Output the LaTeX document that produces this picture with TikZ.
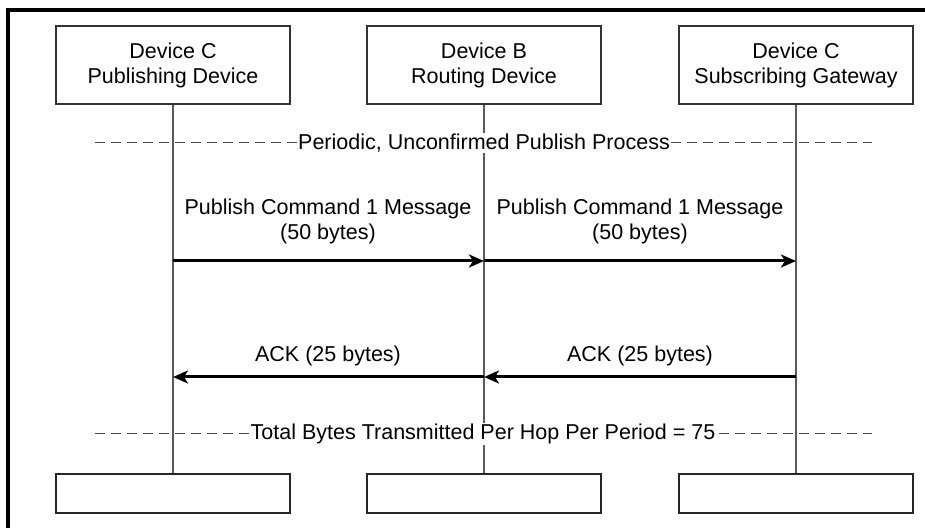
\documentclass[tikz,border=0pt]{standalone}
\usepackage{fontspec}
\setmainfont{Liberation Sans}
\usetikzlibrary{arrows.meta}
\begin{document}
\begin{tikzpicture}[x=0.5pt,y=-0.5pt,
  txt/.style={font=\fontsize{10.75}{12.5}\selectfont, align=center},
  devbox/.style={txt, draw=black!80, line width=0.7pt, fill=white,
    minimum width=117pt, minimum height=39pt, inner sep=0pt},
  endbox/.style={draw=black!85, line width=0.7pt, fill=white,
    minimum width=117pt, minimum height=19.5pt, inner sep=0pt},
  lifeline/.style={draw=black!65, line width=0.75pt},
  phase/.style={draw=black!70, line width=0.5pt, dash pattern=on 5pt off 3pt},
  phasetext/.style={txt, fill=white, inner sep=0.6pt},
  msg/.style={draw=black, line width=1.5pt, -{Stealth[length=7.5pt,width=6.5pt,inset=2pt]}},
  lbl/.style={txt, inner sep=0pt}
]
\useasboundingbox (0,0) rectangle (925,528);
\fill[white] (0,0) rectangle (925,528);

% outer frame
\draw[line width=1.8pt] (8,540) -- (8,10) -- (935,10);

% participants
\node[devbox] (pubTop) at (173,65) {Device C\\Publishing Device};
\node[devbox] (rtTop)  at (484,65) {Device B\\Routing Device};
\node[devbox] (subTop) at (796,65) {Device C\\Subscribing Gateway};

\node[endbox] (pubBot) at (173,493.5) {};
\node[endbox] (rtBot)  at (484,493.5) {};
\node[endbox] (subBot) at (796,493.5) {};

% lifelines
\draw[lifeline] (pubTop.south) -- (pubBot.north);
\draw[lifeline] (rtTop.south) -- (rtBot.north);
\draw[lifeline] (subTop.south) -- (subBot.north);

% phase separators
\coordinate (ph1L) at (95,143);
\coordinate (ph1R) at (872,143);
\draw[phase] (ph1L) -- (ph1R);
\node[phasetext] (ph1) at (484,143) {Periodic, Unconfirmed Publish Process};

\coordinate (ph2L) at (95,434);
\coordinate (ph2R) at (872,434);
\draw[phase] (ph2L) -- (ph2R);
\node[phasetext] (ph2) at (483,434) {Total Bytes Transmitted Per Hop Per Period = 75};

% message anchors on the lifelines
\coordinate (pubA) at (173,261);
\coordinate (rtA)  at (484,261);
\coordinate (subA) at (796,261);
\coordinate (pubK) at (173,377);
\coordinate (rtK)  at (484,377);
\coordinate (subK) at (796,377);

% publish messages
\draw[msg] (pubA) -- (rtA);
\draw[msg] (rtA) -- (subA);
\node[lbl] (m1) at (328,221) {Publish Command 1 Message\\(50 bytes)};
\node[lbl] (m2) at (640,221) {Publish Command 1 Message\\(50 bytes)};

% acknowledgements
\draw[msg] (subK) -- (rtK);
\draw[msg] (rtK) -- (pubK);
\node[lbl] (a1) at (328,356) {ACK (25 bytes)};
\node[lbl] (a2) at (640,356) {ACK (25 bytes)};
\end{tikzpicture}
\end{document}
